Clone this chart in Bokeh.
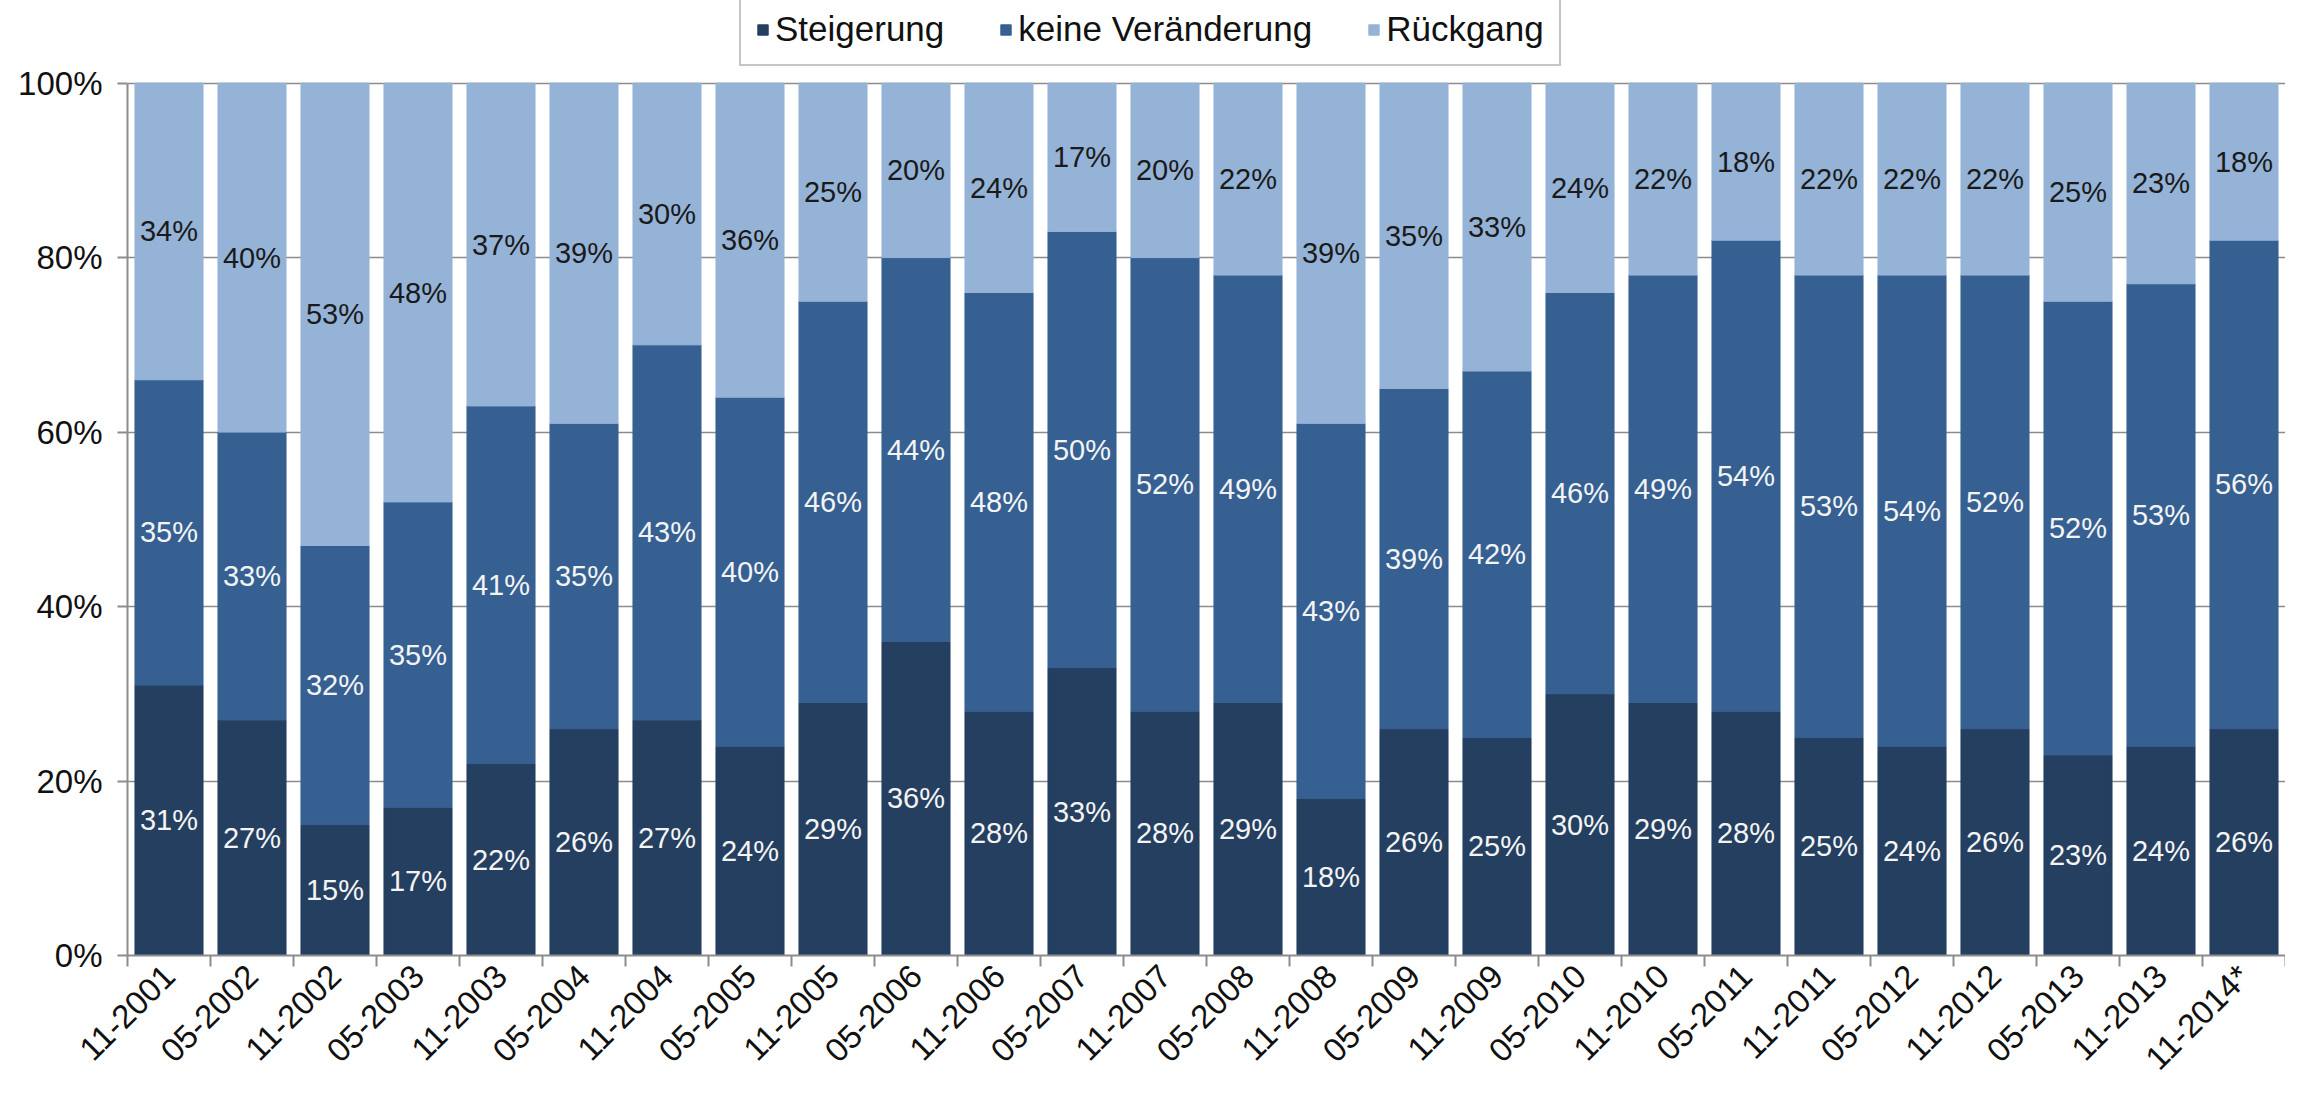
import math
from bokeh.plotting import figure
from bokeh.models import (Range1d, FixedTicker, PrintfTickFormatter, Legend,
                          LegendItem, ColumnDataSource)
from bokeh.core.properties import value
from bokeh.embed import file_html
from bokeh.resources import INLINE

categories = ["11-2001", "05-2002", "11-2002", "05-2003", "11-2003", "05-2004",
              "11-2004", "05-2005", "11-2005", "05-2006", "11-2006", "05-2007",
              "11-2007", "05-2008", "11-2008", "05-2009", "11-2009", "05-2010",
              "11-2010", "05-2011", "11-2011", "05-2012", "11-2012", "05-2013",
              "11-2013", "11-2014*"]
steigerung = [31, 27, 15, 17, 22, 26, 27, 24, 29, 36, 28, 33, 28, 29, 18, 26,
              25, 30, 29, 28, 25, 24, 26, 23, 24, 26]
keine_veraenderung = [35, 33, 32, 35, 41, 35, 43, 40, 46, 44, 48, 50, 52, 49, 43,
                      39, 42, 46, 49, 54, 53, 54, 52, 52, 53, 56]
rueckgang = [34, 40, 53, 48, 37, 39, 30, 36, 25, 20, 24, 17, 20, 22, 39, 35, 33,
             24, 22, 18, 22, 22, 22, 25, 23, 18]
series_names = ["Steigerung", "keine Veränderung", "Rückgang"]
y_ticks = [0, 20, 40, 60, 80, 100]

colors = ["#243F60", "#366092", "#95B3D7"]
label_colors = ["#F4F4F4", "#F4F4F4", "#1A1A1A"]
FONT = "Liberation Sans"
GRAY = "#8C8C8C"

# layout: frame spans from the canvas top; the 0..100 axis occupies the lower 876 px,
# the space above 100% holds the legend
FRAME_H = 959
AXIS_H = 876
y_top = 100 * FRAME_H / AXIS_H

idx = list(range(len(categories)))
src = ColumnDataSource(dict(x=idx, s=steigerung, k=keine_veraenderung, r=rueckgang))

p = figure(width=2285, height=1092,
           x_range=Range1d(-0.5, len(categories) - 0.5), y_range=Range1d(0, y_top),
           output_backend="svg", toolbar_location=None,
           min_border_left=127, min_border_right=0, min_border_top=0,
           min_border_bottom=1092 - FRAME_H)
p.outline_line_color = None

renderers = p.vbar_stack(["s", "k", "r"], x="x", width=0.82, source=src,
                         fill_color=colors, line_color=colors)

# data labels centred in each segment
series = [steigerung, keine_veraenderung, rueckgang]
bottoms = [0] * len(categories)
for vals, col in zip(series, label_colors):
    ys = [b + v / 2 for b, v in zip(bottoms, vals)]
    lsrc = ColumnDataSource(dict(x=idx, y=ys, t=[f"{v}%" for v in vals]))
    p.text(x="x", y="y", text="t", source=lsrc, text_align="center",
           text_baseline="middle", text_font=value(FONT), text_font_size="29px",
           text_color=col)
    bottoms = [b + v for b, v in zip(bottoms, vals)]

# x axis
p.xaxis.ticker = FixedTicker(ticks=idx, minor_ticks=[i - 0.5 for i in range(len(categories) + 1)])
p.xaxis.major_label_overrides = {i: c for i, c in enumerate(categories)}
p.xaxis.major_label_orientation = math.pi / 4
p.xaxis.major_tick_out = 0
p.xaxis.major_tick_in = 0
p.xaxis.minor_tick_out = 11
p.xaxis.minor_tick_in = 0
p.xaxis.minor_tick_line_color = GRAY
p.xaxis.minor_tick_line_width = 2
p.xaxis.axis_line_color = GRAY
p.xaxis.axis_line_width = 2
p.xaxis.major_label_text_font = FONT
p.xaxis.major_label_text_font_size = "33px"
p.xaxis.major_label_text_color = "#111111"
p.xaxis.major_label_standoff = 4
p.xgrid.visible = False

# y axis
p.yaxis.ticker = FixedTicker(ticks=y_ticks)
p.yaxis.bounds = (0, 100)
p.yaxis.formatter = PrintfTickFormatter(format="%d%%")
p.yaxis.major_tick_out = 10
p.yaxis.major_tick_in = 0
p.yaxis.minor_tick_line_color = None
p.yaxis.major_tick_line_color = GRAY
p.yaxis.major_tick_line_width = 2
p.yaxis.axis_line_color = GRAY
p.yaxis.axis_line_width = 2
p.yaxis.major_label_text_font = FONT
p.yaxis.major_label_text_font_size = "33px"
p.yaxis.major_label_text_color = "#111111"
p.yaxis.major_label_standoff = 15
p.ygrid.ticker = FixedTicker(ticks=y_ticks)
p.ygrid.grid_line_color = GRAY
p.ygrid.grid_line_width = 1.5

legend = Legend(items=[LegendItem(label=n, renderers=[r]) for n, r in zip(series_names, renderers)],
                orientation="horizontal", location=(612, 889),
                label_text_font=FONT, label_text_font_size="35px",
                label_text_color="#111111",
                glyph_width=13, glyph_height=13, label_standoff=6, spacing=55,
                padding=15, border_line_color=GRAY, border_line_width=2,
                background_fill_color="white", background_fill_alpha=1.0)
p.add_layout(legend)

open("out.html", "w").write(file_html(p, INLINE))
